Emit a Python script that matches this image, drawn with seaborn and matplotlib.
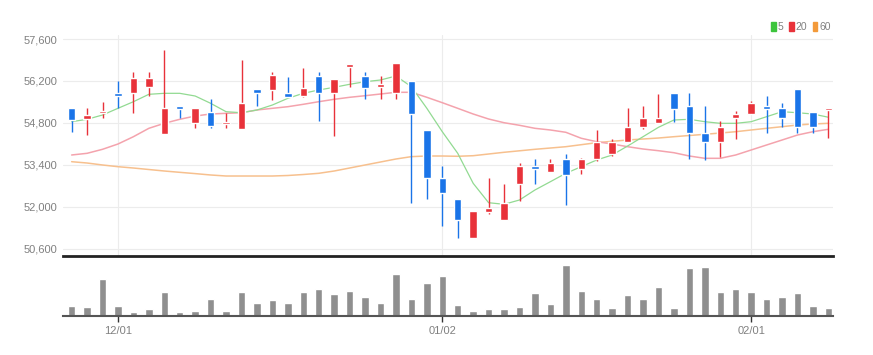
import numpy as np
import pandas as pd
import seaborn as sns
import matplotlib.pyplot as plt
from matplotlib.patches import Patch

# daily candles
opens = [55285, 54918, 55118, 55806, 55786, 56007, 54417, 55362, 54794, 55172,
         54751, 54584, 55940, 55897, 55806, 55696, 56364, 55806, 56675, 56364,
         55997, 55806, 56207, 54551, 52947, 52246, 50963, 51832, 51555, 52768,
         53358, 53168, 53582, 53268, 53582, 53749, 54160, 54671, 54784, 55786,
         55362, 54450, 54170, 54971, 55085, 55362, 55285, 55920, 55172, 55229]
closes = [54895, 55072, 55185, 55706, 56307, 56284, 55285, 55272, 55285, 54684,
          54828, 55473, 55786, 56388, 55653, 55953, 55806, 56274, 56775, 55974,
          56087, 56808, 55085, 52967, 52446, 51555, 51855, 51945, 52112, 53348,
          53248, 53468, 53058, 53582, 54160, 54160, 54661, 54971, 54971, 55272,
          54471, 54170, 54671, 55085, 55473, 55272, 54971, 54671, 54671, 55285]
highs = [55285, 55285, 55506, 56207, 56508, 56508, 57233, 55362, 55285, 55586,
         55139, 56899, 55940, 56508, 56321, 56621, 56508, 56274, 56775, 56508,
         56364, 56808, 56207, 54551, 53358, 52246, 51855, 52968, 52746, 53468,
         53582, 53582, 53749, 53636, 54551, 54270, 55285, 55362, 55773, 55786,
         55786, 55362, 54861, 55195, 55529, 55696, 55473, 55920, 55172, 55285]
lows = [54504, 54394, 54971, 55285, 55118, 55696, 54417, 54951, 54618, 54618,
        54617, 54584, 55362, 55553, 55653, 55653, 54861, 54360, 56001, 55586,
        55586, 55586, 52112, 52246, 51354, 50963, 50963, 51745, 51555, 52189,
        52746, 53168, 52055, 53081, 53525, 53692, 54160, 54584, 54784, 54828,
        53582, 53559, 53659, 54250, 55085, 54471, 54661, 54471, 54471, 54283]
volumes = [32, 27, 115, 30, 11, 21, 74, 11, 17, 52,
           16, 74, 40, 50, 40, 76, 84, 67, 79, 60,
           40, 129, 54, 103, 124, 35, 15, 21, 21, 27,
           71, 36, 158, 79, 54, 25, 65, 52, 91, 25,
           149, 152, 75, 85, 75, 52, 60, 71, 30, 25]

# moving averages as drawn
ma5 = [54838, 54918, 55062, 55285, 55506, 55753, 55786, 55786, 55696, 55452,
       55172, 55138, 55229, 55396, 55619, 55786, 55897, 55987, 56087, 56174,
       56231, 56364, 56007, 55285, 54504, 53782, 52780, 52132, 52079, 52223,
       52557, 52834, 53114, 53335, 53559, 53726, 54026, 54337, 54651, 54895,
       54918, 54838, 54784, 54784, 54838, 55005, 55172, 55138, 55095, 54987]
ma20 = [53726, 53782, 53916, 54093, 54337, 54617, 54784, 54918, 55028, 55095,
        55118, 55138, 55229, 55285, 55339, 55419, 55506, 55586, 55653, 55706,
        55763, 55820, 55820, 55653, 55473, 55285, 55095, 54928, 54804, 54718,
        54617, 54561, 54484, 54284, 54170, 54093, 54003, 53926, 53869, 53802,
        53692, 53615, 53615, 53726, 53893, 54060, 54226, 54393, 54504, 54584]
ma60 = [53502, 53458, 53392, 53335, 53291, 53241, 53191, 53147, 53104, 53058,
        53024, 53024, 53024, 53024, 53041, 53074, 53114, 53191, 53291, 53392,
        53492, 53592, 53671, 53692, 53692, 53683, 53702, 53759, 53816, 53866,
        53916, 53959, 54003, 54070, 54137, 54183, 54227, 54260, 54293, 54337,
        54377, 54417, 54460, 54504, 54561, 54617, 54671, 54727, 54761, 54784]

tick_pos = [3, 24, 44]
tick_labels = ['12/01', '01/02', '02/01']
price_ticks = [50600, 52000, 53400, 54800, 56200, 57600]

RED = '#e8323a'
BLUE = '#1a74e8'
GRAY_TXT = '#808080'

sns.set_theme(style='white')
plt.rcParams['font.family'] = ['Liberation Sans', 'DejaVu Sans']

df = pd.DataFrame(dict(i=np.arange(len(opens)), open=opens, close=closes,
                       high=highs, low=lows, vol=volumes,
                       ma5=ma5, ma20=ma20, ma60=ma60))
df['up'] = df.close >= df.open
df['color'] = np.where(df.up, RED, BLUE)

fig = plt.figure(figsize=(8.73, 3.55), dpi=100)
ax = fig.add_axes([63 / 873, 1 - 256 / 355, 770 / 873, 221 / 355])
axv = fig.add_axes([63 / 873, 1 - 316 / 355, 770 / 873, 58 / 355], sharex=ax)

# moving averages
sns.lineplot(data=df, x='i', y='ma60', ax=ax, color='#f7c08e', lw=1.1, zorder=2)
sns.lineplot(data=df, x='i', y='ma20', ax=ax, color='#f4a3ad', lw=1.1, zorder=2)
sns.lineplot(data=df, x='i', y='ma5', ax=ax, color='#92da92', lw=0.9, zorder=2)

# candles
ax.vlines(df.i, df.low, df.high, colors=df.color, lw=1, zorder=3)
body = (df.close - df.open).abs().clip(lower=40)
ax.bar(df.i, body, bottom=df[['open', 'close']].min(axis=1), width=0.48,
       color=df.color, zorder=4)

ax.set_xlim(-0.56, 49.3)
ax.set_ylim(50352, 57734)
ax.set_yticks(price_ticks)
ax.set_yticklabels([f'{p:,}' for p in price_ticks])
ax.tick_params(axis='y', length=0, labelsize=8, labelcolor=GRAY_TXT, pad=4)
ax.tick_params(axis='x', length=0, labelbottom=False)
ax.set_xticks(tick_pos)
ax.grid(True, color='#ececec', lw=0.8)
ax.set_axisbelow(True)
ax.set_xlabel('')
ax.set_ylabel('')
for s in ['top', 'right', 'left']:
    ax.spines[s].set_visible(False)
ax.spines['bottom'].set_color('#222222')
ax.spines['bottom'].set_linewidth(2)

# volume
sns.barplot(x=df.i, y=df.vol, ax=axv, color='#8f8f8f', saturation=1,
            width=0.48, native_scale=True)
axv.set_ylim(0, 180)
axv.set_yticks([])
axv.set_xlabel('')
axv.set_ylabel('')
axv.set_xticks(tick_pos)
axv.set_xticklabels(tick_labels)
axv.tick_params(axis='x', length=4, width=1, color='#333333', labelsize=8,
                labelcolor=GRAY_TXT, pad=3, direction='out', bottom=True)
axv.set_xlim(-0.56, 49.3)
for s in ['top', 'right', 'left']:
    axv.spines[s].set_visible(False)
axv.spines['bottom'].set_color('#555555')
axv.spines['bottom'].set_linewidth(1.5)

# legend
handles = [Patch(color='#3cc43c', label='5'), Patch(color='#e8323a', label='20'),
           Patch(color='#f39a3a', label='60')]
fig.legend(handles=handles, loc='upper right', bbox_to_anchor=(836 / 873, 1 - 17 / 355),
           ncol=3, frameon=False, fontsize=7.5, handlelength=0.45, handleheight=0.9,
           handletextpad=0.2, columnspacing=0.5, labelcolor=GRAY_TXT, borderpad=0)

fig.savefig('out.png', dpi=100)
